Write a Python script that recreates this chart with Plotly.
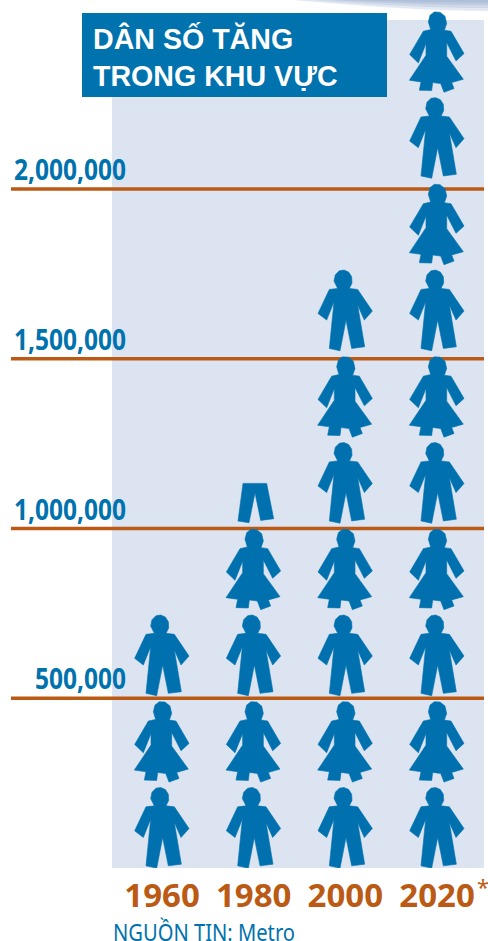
import plotly.graph_objects as go

# ---- data
YEARS = [1960, 1980, 2000, 2020]
POPULATION = [762000, 1143000, 1778000, 2540000]
PEOPLE_PER_ICON = 254000
RULE_VALUES = [500000, 1000000, 1500000, 2000000]
TITLE_LINES = ["DÂN SỐ TĂNG", "TRONG KHU VỰC"]
SOURCE = "NGUỒN TIN: Metro"

# ---- styling / layout constants
W, H = 488, 941
BASE_PX = 868
PX_PER_M = 339.5
PX_PER_YEAR = 91.67 / 20
X0_PX = 162
BLUE = "#0072ae"
ICON = "#0071ae"
ORANGE = "#bb5a14"
PANEL = "#dbe4f0"

xdata = lambda px: 1960 + (px - X0_PX) / PX_PER_YEAR
ydata = lambda py: (BASE_PX - py) / PX_PER_M * 1e6
ypaper = lambda py: (BASE_PX - py) / BASE_PX

MAN = [(78,103),(44,175),(70,195),(92,140),(78,280),(110,287),(128,195),(145,280),(184,275),
       (163,150),(183,195),(207,168),(163,103),(138,100),(146,84),(145,65),(136,51),(122,45),
       (108,47),(96,59),(92,78),(103,100)]
WOMAN = [(85,363),(44,433),(70,458),(93,400),(93,435),(43,510),(78,515),(73,540),(110,541),
         (113,517),(137,520),(147,546),(177,535),(170,517),(205,507),(155,438),(155,397),
         (183,452),(207,430),(168,363),(148,360),(155,340),(150,318),(135,306),(118,305),
         (105,315),(100,335),(107,358)]
PANTS = [(67,40),(52,153),(85,158),(103,68),(120,151),(159,146),(138,40)]

norm = lambda pts, cx, by: [((x - cx) / 3, (by - y) / 3) for x, y in pts]
MAN_T = norm(MAN, 126, 286.5)
WOMAN_T = norm(WOMAN, 126, 545)
PANTS_T = norm(PANTS, 99, 159)


def place(template, year, bottom_value):
    xs = [year + dx / PX_PER_YEAR for dx, dy in template]
    ys = [bottom_value + dy / PX_PER_M * 1e6 for dx, dy in template]
    xs.append(xs[0]); ys.append(ys[0])
    return xs + [None], ys + [None]


fig = go.Figure()
for year, pop in zip(YEARS, POPULATION):
    xs, ys = [], []
    n = pop / PEOPLE_PER_ICON
    i = 0
    while i + 1 <= n + 1e-9:
        a, b = place(MAN_T if i % 2 == 0 else WOMAN_T, year, i * PEOPLE_PER_ICON)
        xs += a; ys += b
        i += 1
    if n - i > 0.01:
        a, b = place(PANTS_T, year, i * PEOPLE_PER_ICON)
        xs += a; ys += b
    fig.add_trace(go.Scatter(x=xs, y=ys, mode="lines", fill="toself", fillcolor=ICON,
                             line=dict(width=0.6, color=ICON), name=str(year),
                             hoverinfo="skip", showlegend=False))

shapes = []
for h_, start in [(2.5, .72), (5, .68), (8, .64), (11, .60)]:
    shapes.append(dict(type="path", xref="paper", yref="paper", layer="below",
                       path=f"M {start},1 L 1,1 L 1,{1 - h_ / BASE_PX} Q 0.85,{1 - h_ / BASE_PX} {start},1 Z",
                       fillcolor="#7f9cc6", opacity=0.22, line=dict(width=0)))
shapes.append(dict(type="rect", layer="below", xref="x", yref="y",
                   x0=xdata(112), x1=xdata(484), y0=0, y1=ydata(20),
                   fillcolor=PANEL, line=dict(width=0)))
for v in RULE_VALUES:
    shapes.append(dict(type="line", layer="below", xref="x", yref="y",
                       x0=xdata(11), x1=xdata(484), y0=v, y1=v,
                       line=dict(color=ORANGE, width=3.4)))
shapes.append(dict(type="rect", layer="below", xref="x", yref="y",
                   x0=xdata(82), x1=xdata(387), y0=ydata(97), y1=ydata(13),
                   fillcolor=BLUE, line=dict(width=0)))

ann = []
for v in RULE_VALUES:
    ann.append(dict(x=xdata(126), y=v, xref="x", yref="y", xanchor="right", yanchor="bottom",
                    yshift=-1, showarrow=False, text=f"{v:,}",
                    font=dict(family="Noto Sans", size=28, color=BLUE, weight=700)))
for line, py in zip(TITLE_LINES, [38, 76]):
    ann.append(dict(x=xdata(91), y=ydata(py), xref="x", yref="y", xanchor="left", yanchor="middle",
                    showarrow=False, text=line,
                    font=dict(family="Liberation Sans", size=28.6, color="white", weight=700)))
ann.append(dict(x=475 / W, y=ypaper(886), xref="paper", yref="paper", xanchor="left", yanchor="middle",
                showarrow=False, text="*", font=dict(family="Noto Sans", size=22, color=ORANGE)))
ann.append(dict(x=112 / W, y=ypaper(931), xref="paper", yref="paper", xanchor="left", yanchor="middle",
                showarrow=False, text=SOURCE, font=dict(family="Noto Sans", size=24, color=BLUE)))

fig.update_layout(
    width=W, height=H, autosize=False,
    margin=dict(l=0, r=0, t=0, b=H - BASE_PX, pad=0),
    paper_bgcolor="white", plot_bgcolor="rgba(0,0,0,0)",
    shapes=shapes, annotations=ann, showlegend=False,
    xaxis=dict(range=[xdata(0), xdata(W)], tickmode="array", tickvals=YEARS,
               ticktext=[str(y) for y in YEARS], showgrid=False, zeroline=False, showline=False,
               ticks="", ticklabelstandoff=5, tickangle=0, fixedrange=True,
               tickfont=dict(family="Noto Sans", size=33, color=ORANGE, weight=700)),
    yaxis=dict(range=[0, ydata(0)], showgrid=False, zeroline=False, showline=False,
               showticklabels=False, ticks="", fixedrange=True),
)

# condense the Myriad-like labels: no condensed family is installed
POST = """
document.body.style.margin='0';document.body.style.overflow='hidden';
document.querySelectorAll('.annotation-text').forEach(function(t){
  var s=t.textContent, num=/^[0-9,]+$/.test(s), src=s.indexOf('NGU')===0;
  if(!num&&!src) return;
  var w=t.getComputedTextLength();
  t.setAttribute('textLength', src?182:w*0.875);
  t.setAttribute('lengthAdjust','spacingAndGlyphs');
  var r=t.getBoundingClientRect(), dx=src?(113-r.left):(126-r.right);
  t.setAttribute('x', parseFloat(t.getAttribute('x')||0)+dx);
});
"""
fig.write_html("out.html", config={"displayModeBar": False, "responsive": False}, post_script=POST)
